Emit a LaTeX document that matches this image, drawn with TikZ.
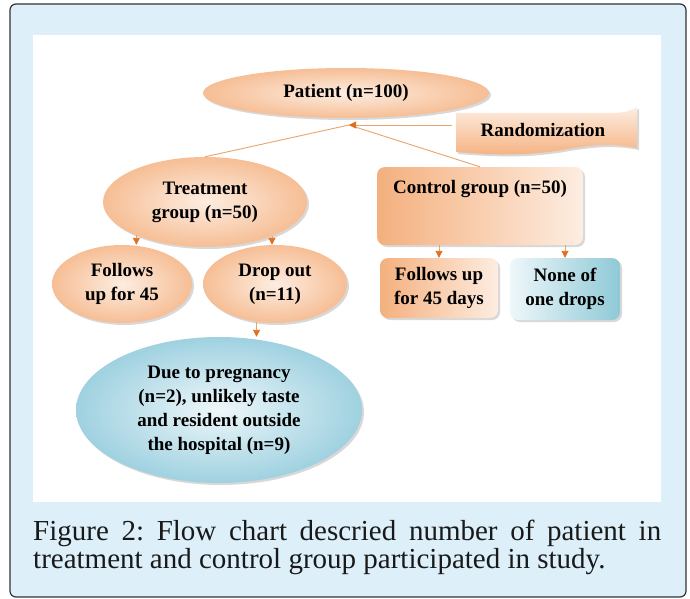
\documentclass[tikz,border=0pt]{standalone}
\usepackage{fontspec}
\setmainfont{Liberation Serif}
\usetikzlibrary{shapes.geometric,arrows.meta,shadows}
\frenchspacing

\definecolor{framebg}{HTML}{DDF0FA}
\definecolor{peachin}{HTML}{FDEDE1}
\definecolor{peachout}{HTML}{F6BE95}
\definecolor{peachdark}{HTML}{F4B07E}
\definecolor{bluein}{HTML}{EEF7FA}
\definecolor{blueout}{HTML}{9FD1E0}
\definecolor{linkcol}{HTML}{E9A46A}
\definecolor{tipcol}{HTML}{E2701E}

\newcommand{\chartfont}{\fontsize{19}{24}\selectfont\bfseries}

\tikzset{
  shade3d/.style={drop shadow={shadow xshift=2pt, shadow yshift=-2pt, opacity=0.3}},
  oval/.style={ellipse, inner sep=0pt, align=center, font=\chartfont,
    inner color=peachin, outer color=peachout, shade3d},
  blueoval/.style={oval, inner color=bluein, outer color=blueout},
  card/.style={rectangle, rounded corners=8pt, inner sep=0pt, align=center,
    font=\chartfont, left color=peachdark, right color=peachin, shade3d},
  bluecard/.style={card, left color=bluein, right color=blueout!90!teal},
  link/.style={draw=linkcol, line width=0.9pt},
  arrow/.style={link, -{Triangle[length=7pt, width=7pt, color=tipcol]}},
}

\begin{document}
\begin{tikzpicture}[x=1pt, y=-1pt]
  \useasboundingbox (0,0) rectangle (690,599);
  % Frame and white panel
  \draw[fill=framebg, draw=black!80, line width=1.2pt, rounded corners=6pt]
    (10,4) rectangle (686,597);
  \fill[white] (33,35) rectangle (661,502);
  % Randomization banner
  \shade[top color=peachin, bottom color=peachdark, shade3d]
    (456,113) -- (612,113) .. controls (626,113) and (632,110) .. (637,107)
    -- (637,148) .. controls (612,143) and (590,145) .. (562,150)
    .. controls (522,157) and (482,154) .. (456,152) -- cycle;
  \node[inner sep=0pt, minimum width=181pt, minimum height=40pt, font=\chartfont]
    (rand) at (543,130) {Randomization};
  % Top level
  \node[oval, minimum width=286pt, minimum height=50pt] (patient) at (346,93) {Patient (n=100)};
  \coordinate (join) at (349,125);
  % Treatment side
  \node[oval, minimum width=204pt, minimum height=90pt] (treat) at (205,202) {Treatment\\group (n=50)};
  \node[oval, minimum width=140pt, minimum height=78pt] (fol) at (122,284) {Follows\\up for 45};
  \node[oval, minimum width=144pt, minimum height=78pt] (drop) at (275,284) {Drop out\\(n=11)};
  \node[blueoval, minimum width=286pt, minimum height=146pt] (due) at (219,410)
    {Due to pregnancy\\(n=2), unlikely taste\\and resident outside\\the hospital (n=9)};
  % Control side
  \node[card, minimum width=206pt, minimum height=78pt,
    label={[anchor=north, yshift=-10pt, font=\chartfont]north:Control group (n=50)}]
    (ctrl) at (480,206) {};
  \node[card, minimum width=118pt, minimum height=60pt] (folctrl) at (439,288) {Follows up\\for 45 days};
  \node[bluecard, minimum width=110pt, minimum height=62pt] (none) at (565,289) {None of\\one drops};
  % Connectors
  \draw[link] (treat.north) -- (join);
  \draw[link] (ctrl.north) -- (join);
  \draw[arrow] ([yshift=5pt]rand.west) -- (join);
  \draw[arrow] (treat.206) -- (treat.206 |- fol.north);
  \draw[arrow] (treat.333) -- (treat.333 |- drop.north);
  \draw[arrow] (drop.244) -- (drop.244 |- due.north);
  \draw[arrow] (folctrl.north |- ctrl.south) -- (folctrl.north);
  \draw[arrow] (none.north |- ctrl.south) -- (none.north);
  % Caption
  \node[anchor=base west, inner sep=0pt, font=\fontsize{29}{34}\selectfont, text=black!90]
    (cap1) at (33,540) {\makebox[628pt][s]{Figure 2: Flow chart descried number of patient in}};
  \node[anchor=base west, inner sep=0pt, font=\fontsize{29}{34}\selectfont, text=black!90]
    (cap2) at (33,568) {treatment and control group participated in study.};
\end{tikzpicture}
\end{document}
